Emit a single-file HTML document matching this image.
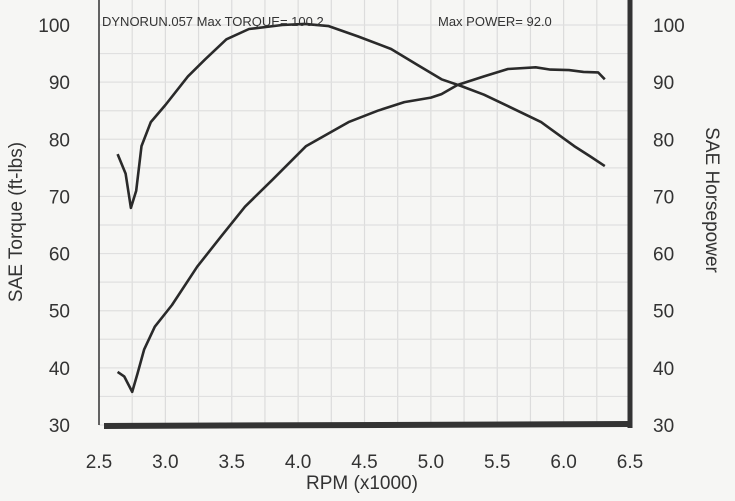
<!DOCTYPE html>
<html><head><meta charset="utf-8"><style>
html,body{margin:0;padding:0;background:#f6f6f4;}
svg{display:block;font-family:"Liberation Sans",sans-serif;}
</style></head><body>
<svg id="chart" width="735" height="501" viewBox="0 0 735 501">
<rect x="0" y="0" width="735" height="501" fill="#f6f6f4"/>
<g id="grid"></g>
<g id="axes"></g>
<g id="series"></g>
<text x="102" y="26" font-size="13" fill="#333">DYNORUN.057  Max TORQUE= 100.2</text>
<text x="438" y="26" font-size="13" fill="#333">Max POWER= 92.0</text>
<text x="362" y="489" font-size="19" fill="#333" text-anchor="middle">RPM (x1000)</text>
<text transform="translate(22,222) rotate(-90)" font-size="19" fill="#333" text-anchor="middle">SAE Torque (ft-lbs)</text>
<text transform="translate(706,200) rotate(90)" font-size="19" fill="#333" text-anchor="middle">SAE Horsepower</text>
</svg>
<script>
const xTicks = ["2.5","3.0","3.5","4.0","4.5","5.0","5.5","6.0","6.5"];
const yTicks = ["30","40","50","60","70","80","90","100"];
const torqueRpm = [2.64,2.7,2.74,2.78,2.82,2.89,3.0,3.17,3.3,3.46,3.63,3.88,4.05,4.23,4.45,4.7,4.9,5.08,5.23,5.4,5.58,5.83,6.08,6.2,6.31];
const torqueVal = [77.4,74,68,71,78.8,83,86,91,94,97.5,99.3,100,100.2,99.8,98,95.8,93,90.5,89.3,87.8,85.8,83,78.8,77,75.3];
const powerRpm = [2.64,2.69,2.75,2.79,2.84,2.92,3.05,3.24,3.42,3.6,3.81,4.06,4.38,4.6,4.8,5.0,5.08,5.2,5.4,5.58,5.79,5.9,6.04,6.15,6.26,6.31];
const powerVal = [39.3,38.5,35.8,39,43.2,47.2,51,57.7,63,68.2,73,78.8,83,85,86.5,87.3,87.9,89.5,91,92.3,92.6,92.2,92.1,91.8,91.7,90.5];
const NS="http://www.w3.org/2000/svg";
const X0=99,X1=630,Y0=425,Y1=25;
const xs=v=>X0+(v-2.5)/4*(X1-X0);
const ys=v=>Y0-(v-30)/70*(Y0-Y1);
function mk(tag,attrs,parent){const e=document.createElementNS(NS,tag);for(const k in attrs)e.setAttribute(k,attrs[k]);parent.appendChild(e);return e;}
const grid=document.getElementById('grid'),axes=document.getElementById('axes'),series=document.getElementById('series');
for(let v=2.5;v<=6.51;v+=0.25){const l=mk('line',{x1:xs(v),x2:xs(v),y1:0,y2:Y0,stroke:'#dcdcdc','stroke-width':1.2},grid);

}
for(let v=30;v<=105;v+=5){const l=mk('line',{x1:X0,x2:X1,y1:ys(v),y2:ys(v),stroke:'#e0e0e0','stroke-width':1.2},grid);

}
xTicks.forEach(t=>{const e=mk('text',{x:xs(+t),y:468,'font-size':19,fill:'#333','text-anchor':'middle'},axes);e.textContent=t;

});
yTicks.forEach(t=>{const a=mk('text',{x:70,y:ys(+t)+7,'font-size':19,fill:'#333','text-anchor':'end'},axes);a.textContent=t;


const b=mk('text',{x:653,y:ys(+t)+7,'font-size':19,fill:'#333'},axes);b.textContent=t;

});
const la=mk('line',{x1:X0,x2:X0,y1:0,y2:Y0,stroke:'#333','stroke-width':1.5},axes);


const ra=mk('line',{x1:X1,x2:X1,y1:0,y2:Y0+3,stroke:'#333','stroke-width':5},axes);


const ba=mk('line',{x1:104,x2:X1,y1:Y0+1,y2:Y0-1,stroke:'#333','stroke-width':6},axes);


function path(xsA,ysA){return xsA.map((r,i)=>(i?'L':'M')+xs(r).toFixed(1)+' '+ys(ysA[i]).toFixed(1)).join(' ');}
const tp=mk('path',{d:path(torqueRpm,torqueVal),fill:'none',stroke:'#2a2a2a','stroke-width':2.6,'stroke-linejoin':'round'},series);


const pp=mk('path',{d:path(powerRpm,powerVal),fill:'none',stroke:'#2a2a2a','stroke-width':2.6,'stroke-linejoin':'round'},series);


</script>
</body></html>
